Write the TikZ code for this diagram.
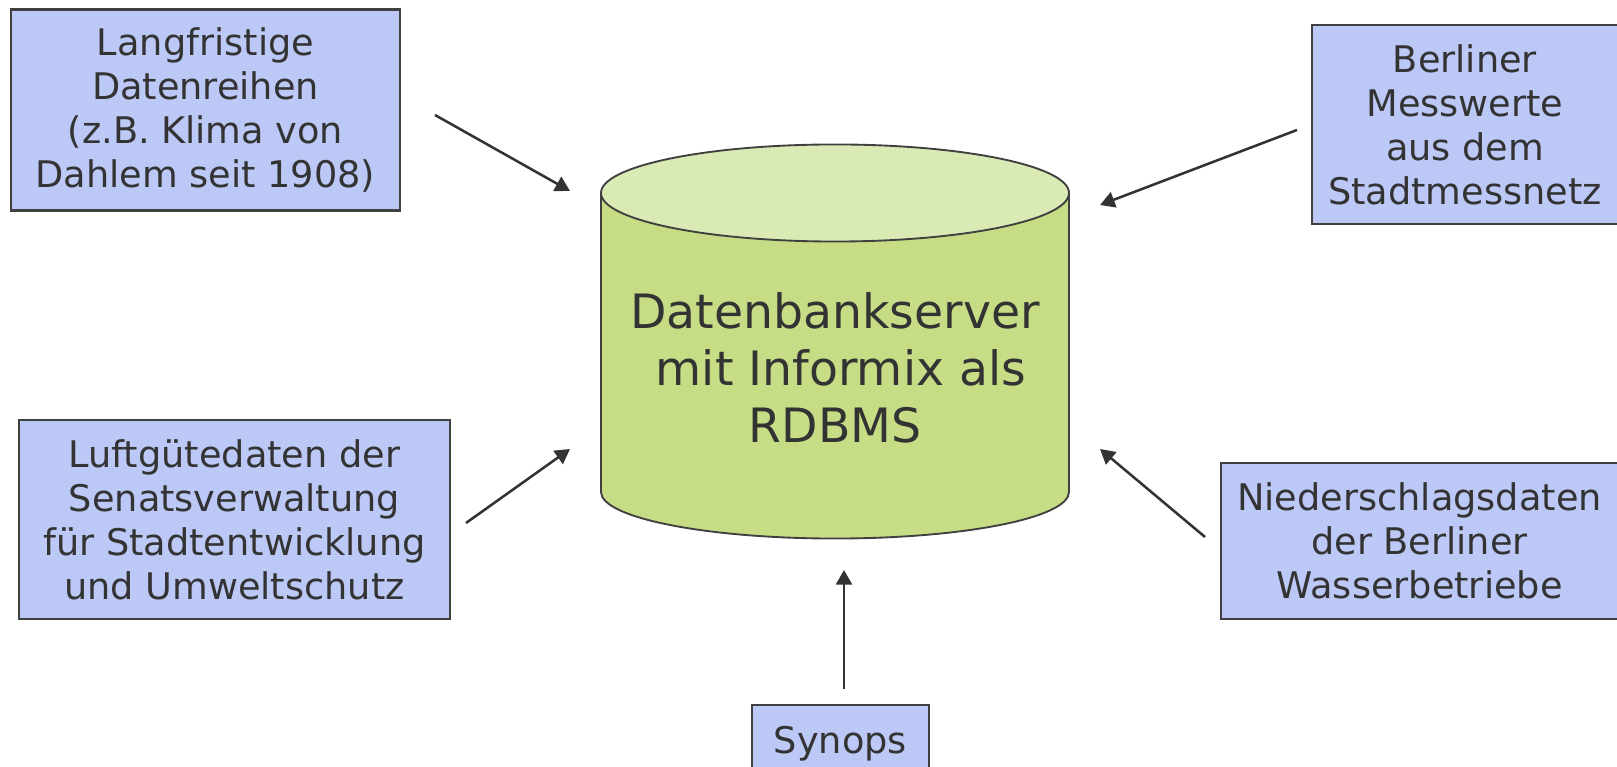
\documentclass[tikz,border=0pt]{standalone}
\usepackage{fontspec}
\setmainfont{DejaVu Sans}
\usetikzlibrary{arrows.meta}
\definecolor{boxfill}{HTML}{BCC8F5}
\definecolor{edge}{HTML}{404040}
\definecolor{txt}{HTML}{333333}
\definecolor{cylbody}{HTML}{C6DD85}
\definecolor{cyltop}{HTML}{DAEAB5}
\begin{document}
\begin{tikzpicture}[x=0.75pt,y=0.75pt,
  srcbox/.style={draw=edge, line width=1.7pt, fill=boxfill, text=txt, align=center,
    inner sep=0pt, font=\fontsize{27.5}{33}\selectfont},
  arr/.style={draw=txt, line width=1.9pt, -{Triangle[length=11pt,width=12pt]}}]
\useasboundingbox (0,0) rectangle (1617,767);
% cylinder
\path[fill=cylbody, draw=edge, line width=1.4pt]
  (601,574) -- (601,275) arc[start angle=180, end angle=360, x radius=175.5pt, y radius=34.9pt] -- (1069,574);
\fill[cylbody] (601,574) -- (601,300) -- (1069,300) -- (1069,574) -- cycle;
\draw[edge, line width=1.4pt] (601,574) -- (601,275) (1069,574) -- (1069,275);
\draw[fill=cyltop, draw=edge, line width=1.4pt] (835,574) ellipse [x radius=175.5pt, y radius=36.4pt];
\node[text=txt, align=center, inner sep=0pt, font=\fontsize{35.5}{43}\selectfont] (db) at (835,399)
  {Datenbankserver\\ \hspace*{0.25em}mit Informix als\\RDBMS};
% source boxes
\node[srcbox, minimum width=291.75pt, minimum height=150.75pt] (b1) at (205.5,657)
  {Langfristige\\Datenreihen\\(z.B. Klima von\\Dahlem seit 1908)};
\node[srcbox, minimum width=229.5pt, minimum height=149.25pt] (b2) at (1465,642.5)
  {Berliner\\Messwerte\\aus dem\\Stadtmessnetz};
\node[srcbox, minimum width=323.25pt, minimum height=149.25pt] (b3) at (234.5,247.5)
  {Luftgütedaten der\\Senatsverwaltung\\für Stadtentwicklung\\und Umweltschutz};
\node[srcbox, minimum width=297.75pt, minimum height=117pt] (b4) at (1419.5,226)
  {Niederschlagsdaten\\der Berliner\\Wasserbetriebe};
\node[srcbox, minimum width=132.75pt, minimum height=58.5pt] (b5) at (840.5,23)
  {Synops};
% arrow ends
\coordinate (s1) at (435,652); \coordinate (e1) at (570,576);
\coordinate (s2) at (1297,637); \coordinate (e2) at (1100,562);
\coordinate (s3) at (466,244); \coordinate (e3) at (570,318);
\coordinate (s4) at (1205,230); \coordinate (e4) at (1100,318);
\coordinate (s5) at (844,78); \coordinate (e5) at (844,197);
\draw[arr] (s1) -- (e1);
\draw[arr] (s2) -- (e2);
\draw[arr] (s3) -- (e3);
\draw[arr] (s4) -- (e4);
\draw[arr] (s5) -- (e5);
\end{tikzpicture}
\end{document}
